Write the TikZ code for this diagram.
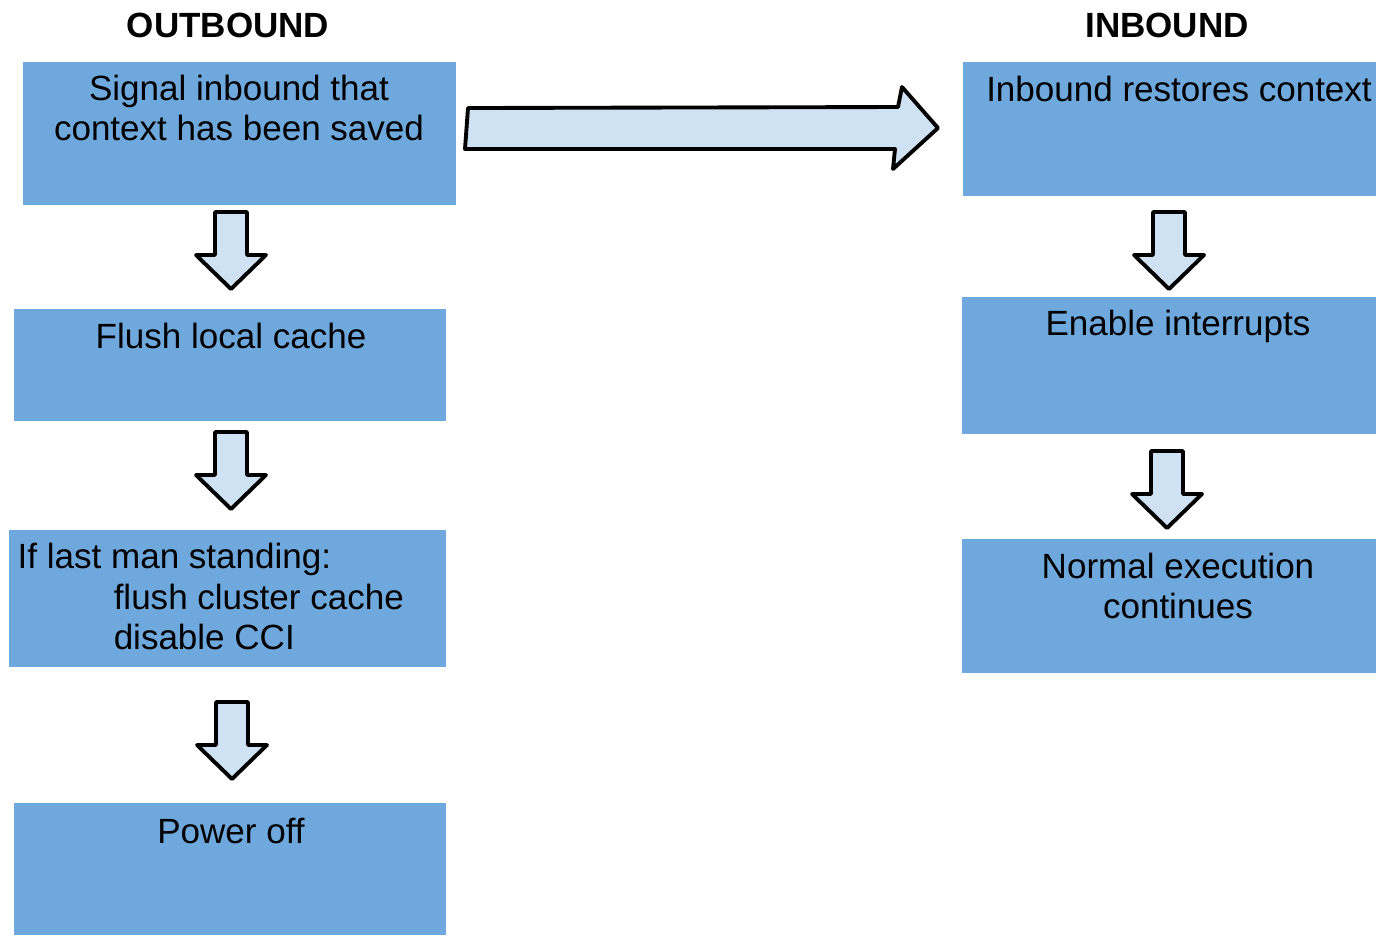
\documentclass[tikz,border=0pt]{standalone}
\usepackage{fontspec}
\setmainfont{Liberation Sans}
\definecolor{boxblue}{HTML}{6FA8DC}
\definecolor{arrowblue}{HTML}{CFE2F3}
\begin{document}
\begin{tikzpicture}[x=0.01cm,y=-0.01cm,
  box/.style={fill=boxblue, draw=none, inner sep=0pt, rectangle},
  label/.style={inner sep=0pt, font=\fontsize{9.96pt}{11.38pt}\selectfont},
  heading/.style={inner sep=0pt, anchor=base, font=\fontsize{9.96pt}{11.38pt}\selectfont\bfseries},
  blockarrow/.style={draw=black, fill=arrowblue, line width=1.1pt, line join=round},
  downarrow/.pic={\draw[blockarrow] (-16,0) -- (16,0) -- (16,43) -- (35,43)
      -- (0,77) -- (-35,43) -- (-16,43) -- cycle;}]
\useasboundingbox (0,0) rectangle (1376,935);

% column headings
\node[heading] (hout) at (228,37) {OUTBOUND};
\node[heading] (hin)  at (1167,37) {INBOUND};

% outbound steps
\node[box, minimum width=4.33cm, minimum height=1.43cm] (b1) at (239.5,133.5) {};
\node[box, minimum width=4.32cm, minimum height=1.12cm] (b2) at (230,365) {};
\node[box, minimum width=4.37cm, minimum height=1.37cm] (b3) at (227.5,598.5) {};
\node[box, minimum width=4.32cm, minimum height=1.32cm] (b4) at (230,869) {};

% inbound steps
\node[box, minimum width=4.13cm, minimum height=1.34cm] (r1) at (1169.5,129) {};
\node[box, minimum width=4.14cm, minimum height=1.37cm] (r2) at (1169,365.5) {};
\node[box, minimum width=4.14cm, minimum height=1.34cm] (r3) at (1169,606) {};

% step texts (base anchor sits on the last line of a multi-line text)
\node[label, align=center, anchor=base] (t1) at (239,140) {Signal inbound that\\context has been saved};
\node[label, anchor=base] (t2) at (231,348) {Flush local cache};
\node[label, align=left, anchor=base west] (t3) at (17,649)
  {If last man standing:\\\hspace*{0.96cm}flush cluster cache\\\hspace*{0.96cm}disable CCI};
\node[label, anchor=base] (t4) at (231,843) {Power off};
\node[label, anchor=base] (s1) at (1179,101) {Inbound restores context};
\node[label, anchor=base] (s2) at (1178,335) {Enable interrupts};
\node[label, align=center, anchor=base] (s3) at (1178,618) {Normal execution\\continues};

% flow arrows
\pic at (231,212) {downarrow};
\pic at (231,432) {downarrow};
\pic at (232,702) {downarrow};
\pic at (1169,212) {downarrow};
\pic at (1167,451) {downarrow};

% hand-off from outbound to inbound
\draw[blockarrow] (468,108) -- (898,107) -- (902,87) -- (938,128) -- (893,169)
  -- (895,149) -- (465,149) -- cycle;
\end{tikzpicture}
\end{document}
